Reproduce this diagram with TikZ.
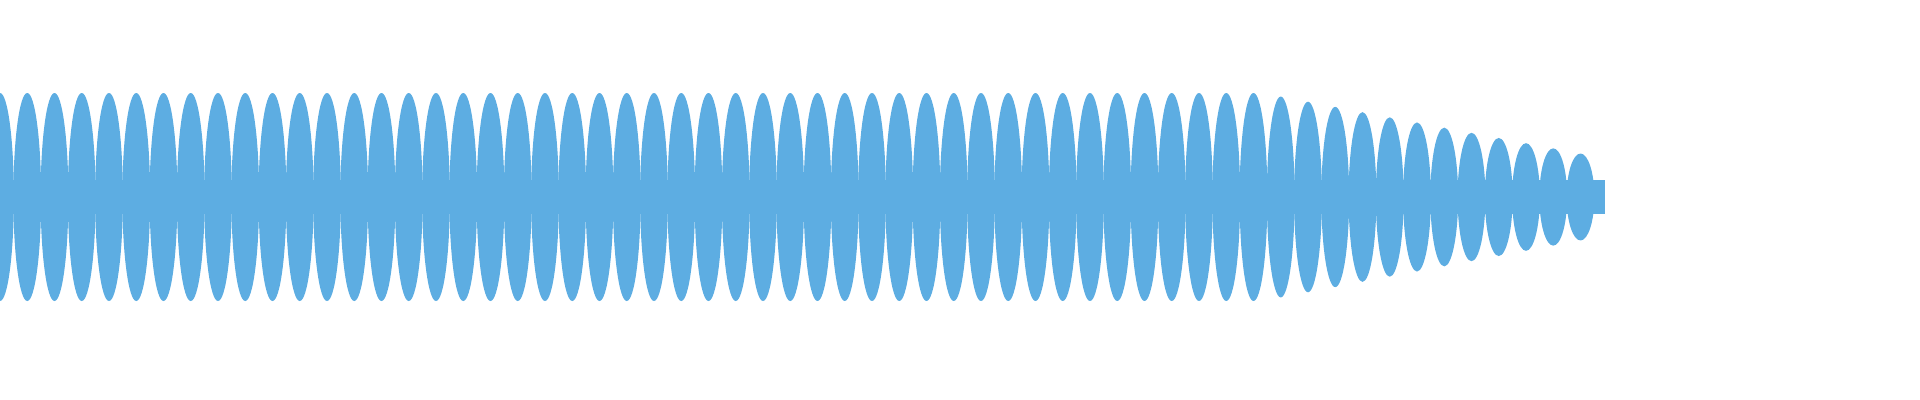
\documentclass[tikz,border=0pt]{standalone}
\usepackage{tikz}
\definecolor{waveblue}{HTML}{5DADE2}
\tikzset{
	wave/.style={fill=waveblue}
}
\begin{document}
\begin{tikzpicture}[x=0.01cm,y=-0.01cm]
	\useasboundingbox (0,0) rectangle (1920,400);
	
	% centre band
	\fill [wave] (0,180) rectangle (1605,214);
	% lobes
	\foreach \i in {0,...,58}
	{
		\pgfmathsetmacro{\xc}{\i*27.25}
		\pgfmathsetmacro{\amp}{max(38,104-0.19*max(0,\xc-1262))}
		\fill [wave] (\xc,197) ellipse [x radius=13.9, y radius=\amp];
	}
\end{tikzpicture}
\end{document}
